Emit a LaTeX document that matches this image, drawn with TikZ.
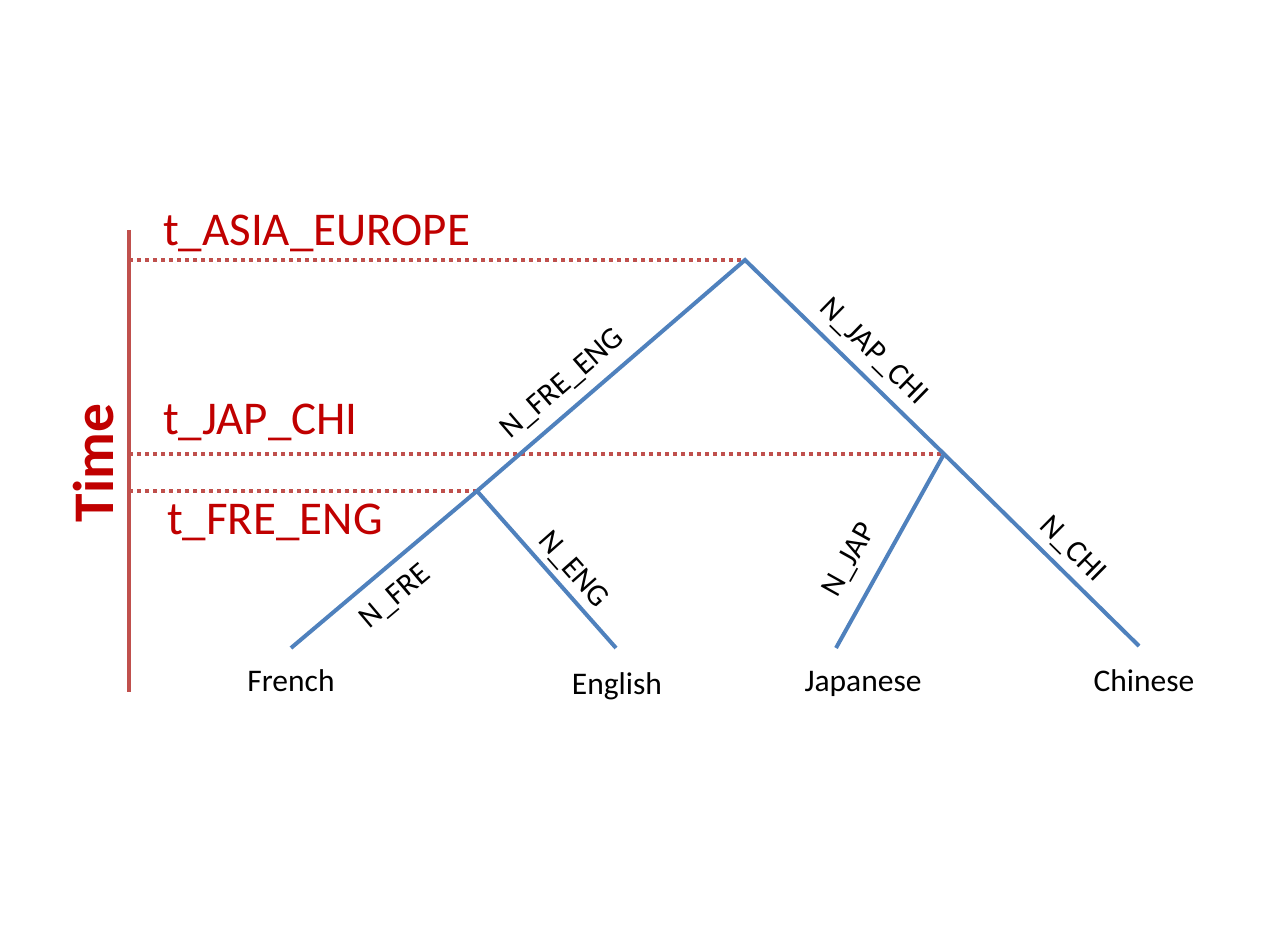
\documentclass[tikz,border=0pt]{standalone}
\usepackage{fontspec}
\setmainfont{Carlito}
\definecolor{tred}{HTML}{C00000}
\definecolor{lred}{HTML}{C0504D}
\definecolor{tblue}{HTML}{4F81BD}
\begin{document}
\begin{tikzpicture}[x=1pt,y=1pt,
  branch/.style={draw=tblue,line width=4pt},
  timeline/.style={draw=lred,line width=4pt,dash pattern=on 4pt off 4pt},
  axisline/.style={draw=lred,line width=3.5pt},
  tlabel/.style={text=tred,font=\fontsize{47}{52}\selectfont,anchor=base west,inner sep=0pt},
  blabel/.style={font=\fontsize{31}{35}\selectfont,inner sep=0pt},
  leaf/.style={font=\fontsize{31.5}{35}\selectfont,anchor=base,inner sep=0pt}]
\useasboundingbox (0,0) rectangle (1265,949);
% axis
\coordinate (atop) at (129,719);
\coordinate (abot) at (129,257);
\draw[axisline] (atop) -- (abot);
\node[text=tred,font=\bfseries\fontsize{57.5}{62}\selectfont,rotate=90,inner sep=0pt] (time) at (94,486) {Time};
% tree nodes
\coordinate (root) at (745,689);
\coordinate (fe) at (477,458);
\coordinate (jc) at (944,495);
\coordinate (fr) at (291,301);
\coordinate (en) at (616,301);
\coordinate (ja) at (836,301);
\coordinate (ch) at (1139,303);
% time lines
\coordinate (a1) at (129,689);
\coordinate (a2) at (129,495);
\coordinate (a3) at (129,458);
\draw[timeline] (a1) -- (root);
\draw[timeline] (a2) -- (jc);
\draw[timeline] (a3) -- (fe);
% branches
\draw[branch,line join=miter] (fr) -- (fe) -- (root) -- (jc) -- (ch);
\draw[branch] (fe) -- (en);
\draw[branch] (jc) -- (ja);
% time labels
\node[tlabel] (tae) at (163,703) {t\_ASIA\_EUROPE};
\node[tlabel] (tjc) at (163,514) {t\_JAP\_CHI};
\node[tlabel] (tfe) at (167,414) {t\_FRE\_ENG};
% branch labels
\node[blabel,rotate=40.8] (lfe) at (563,565) {N\_FRE\_ENG};
\node[blabel,rotate=-44.3] (ljc) at (873,597) {N\_JAP\_CHI};
\node[blabel,rotate=40.2] (lfr) at (396,352) {N\_FRE};
\node[blabel,rotate=-48.5] (len) at (573,379) {N\_ENG};
\node[blabel,rotate=60.9] (lja) at (850,389) {N\_JAP};
\node[blabel,rotate=-44.6] (lch) at (1072,399) {N\_CHI};
% leaves
\node[leaf] (French) at (291,257) {French};
\node[leaf] (English) at (617,254) {English};
\node[leaf] (Japanese) at (863,257) {Japanese};
\node[leaf] (Chinese) at (1144,257) {Chinese};
\end{tikzpicture}
\end{document}
